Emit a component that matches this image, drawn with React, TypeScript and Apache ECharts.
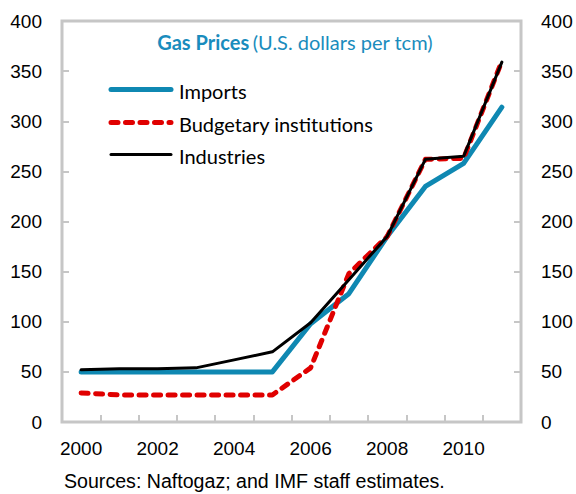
import React, { useEffect, useRef } from "react";
import * as echarts from "echarts";

const years = ["2000","2001","2002","2003","2004","2005","2006","2007","2008","2009","2010","2011"];
const imports = [50, 50, 50, 50, 50, 50, 98, 128, 185, 235, 258, 314];
const budgetary = [29, 27, 27, 27, 27, 27, 54, 148, 185, 262, 263, 360];
const industries = [52, 53, 53, 54, 62, 70, 99, 142, 185, 262, 265, 359];
const seriesNames = ["Imports", "Budgetary institutions", "Industries"];
const yTicks = { min: 0, max: 400, interval: 50 };
const titleBold = "Gas Prices";
const titleRest = "(U.S. dollars per tcm)";
const sourceText = "Sources: Naftogaz; and IMF staff estimates.";

const BLUE = "#0f88b2";
const RED = "#e00000";
const GREY = "#c6c6c6";
const AXIS_FONT = "'Liberation Sans', Arial, sans-serif";
const LEG_FONT = "Lato, 'Open Sans', sans-serif";

const styles = [
  { color: BLUE, width: 5, type: "solid" as any },
  { color: RED, width: 5, type: [7, 7.5] as any },
  { color: "#000", width: 3, type: "solid" as any },
];

export default function App() {
  const ref = useRef<HTMLDivElement>(null);
  useEffect(() => {
    document.body.style.margin = "0";
    const chart = echarts.init(ref.current!, null, { renderer: "svg" });
    const yAxisBase = {
      type: "value" as const,
      min: yTicks.min,
      max: yTicks.max,
      interval: yTicks.interval,
      splitLine: { show: false },
      axisLine: { show: false },
      axisTick: { show: true, inside: true, length: 7, lineStyle: { color: GREY, width: 2 } },
      axisLabel: { color: "#000", fontFamily: AXIS_FONT, fontSize: 19, margin: 20 },
    };
    const legendRowsY = [89.5, 122.5, 154.5];
    const legendGraphics: any[] = [];
    seriesNames.forEach((name, i) => {
      const s = styles[i];
      legendGraphics.push({
        type: "line",
        shape: { x1: 111, y1: legendRowsY[i], x2: 171, y2: legendRowsY[i] },
        style: {
          stroke: s.color,
          lineWidth: s.width,
          lineCap: "round",
          lineDash: Array.isArray(s.type) ? s.type : null,
        },
        z: 10,
      });
      legendGraphics.push({
        type: "text",
        x: 179,
        y: legendRowsY[i] + 1,
        style: {
          text: name,
          fontFamily: LEG_FONT,
          fontSize: 20,
          fill: "#000",
          verticalAlign: "middle",
        },
        z: 10,
      });
    });
    chart.setOption({
      animation: false,
      grid: {
        left: 62, right: 55, top: 21, bottom: 72,
        show: true, borderColor: GREY, borderWidth: 3, backgroundColor: "transparent",
      },
      graphic: [
        {
          type: "text",
          x: 295,
          y: 42,
          style: {
            text: `{b|${titleBold}} {n|${titleRest}}`,
            align: "center",
            verticalAlign: "middle",
            rich: {
              b: { fontFamily: LEG_FONT, fontSize: 20, fontWeight: "bold", fill: "#1a8cbd" },
              n: { fontFamily: LEG_FONT, fontSize: 20, fill: "#1a8cbd" },
            },
          },
        },
        ...legendGraphics,
        {
          type: "text",
          x: 64,
          y: 481,
          style: {
            text: sourceText,
            fontFamily: AXIS_FONT,
            fontSize: 19.6,
            fill: "#000",
            verticalAlign: "middle",
          },
        },
      ],
      xAxis: {
        type: "category",
        data: years,
        boundaryGap: true,
        axisLine: { show: false },
        axisTick: { show: true, inside: true, interval: 0, length: 7, lineStyle: { color: GREY, width: 2 } },
        axisLabel: { interval: 1, color: "#000", fontFamily: AXIS_FONT, fontSize: 19, margin: 17 },
        splitLine: { show: false },
      },
      yAxis: [
        { ...yAxisBase, position: "left" },
        { ...yAxisBase, position: "right" },
      ],
      series: [imports, budgetary, industries].map((d, i) => ({
        name: seriesNames[i],
        type: "line",
        data: d,
        symbol: "none",
        lineStyle: { color: styles[i].color, width: styles[i].width, type: styles[i].type, cap: "round", join: "round" },
        itemStyle: { color: styles[i].color },
        z: 2 + i,
      })),
    });
    return () => chart.dispose();
  }, []);
  return <div ref={ref} style={{ width: 576, height: 494 }} />;
}
